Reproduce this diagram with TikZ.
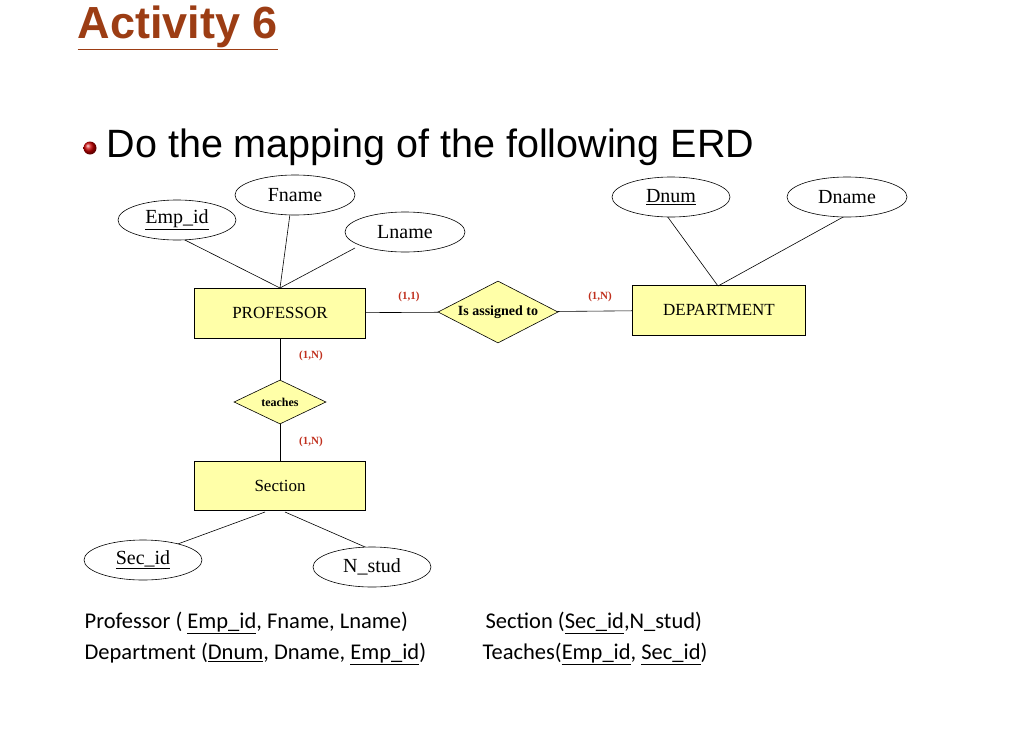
\documentclass[tikz,border=0pt]{standalone}
\usepackage{fontspec}
\setmainfont{Liberation Serif}
\newfontfamily\arialfont{Liberation Sans}
\newfontfamily\calibrifont{Carlito}
\usetikzlibrary{shapes.geometric,positioning}
\definecolor{titlebrown}{HTML}{9C3D14}
\definecolor{cardred}{HTML}{C0301E}
\definecolor{boxyellow}{HTML}{FFFFA8}
\tikzset{
  entity/.style={rectangle, draw=black, fill=boxyellow, minimum width=171pt, minimum height=50pt, font=\fontsize{17}{19}\selectfont},
  attrib/.style={ellipse, draw=black, fill=white, minimum width=118pt, minimum height=40pt, font=\fontsize{20}{22}\selectfont},
  relation/.style={diamond, draw=black, fill=boxyellow, aspect=2, inner sep=0pt, font=\bfseries\fontsize{14}{16}\selectfont},
  card/.style={text=cardred, font=\bfseries\fontsize{11}{13}\selectfont},
  schema/.style={anchor=west, font=\calibrifont\fontsize{22.5}{26}\selectfont}
}
\begin{document}
\begin{tikzpicture}[x=1pt,y=-1pt,semithick]
  \useasboundingbox (0,0) rectangle (1024,731);

  % heading
  \node[anchor=west, text=titlebrown, font=\arialfont\bfseries\fontsize{45}{48}\selectfont] (title) at (74,28) {\underline{Activity 6}};
  \shade[ball color=red!80!black] (90,148) circle (6.5);
  \node[anchor=west, font=\arialfont\fontsize{39.5}{42}\selectfont] (intro) at (103,147) {Do the mapping of the following ERD};

  % entities and relationships
  \node[entity] (prof) at (280,313) {PROFESSOR};
  \node[entity, minimum width=173pt] (dept) at (719,310) {DEPARTMENT};
  \node[entity, minimum height=49pt] (sect) at (280,486) {Section};
  \node[relation, minimum width=120pt, minimum height=62pt] (assign) at (498,312) {Is assigned to};
  \node[relation, minimum width=92pt, minimum height=44pt, font=\bfseries\fontsize{12}{14}\selectfont] (teach) at (280,402) {teaches};

  % connectors first, attributes drawn on top
  \coordinate (proftop) at (280,288);
  \coordinate (depttop) at (718,286);
  \draw (proftop) -- (177,236);
  \draw (proftop) -- (290,214);
  \draw (proftop) -- (355,248);
  \draw (depttop) -- (667,216);
  \draw (depttop) -- (845,216);
  \draw (prof) -- (assign) -- (dept);
  \draw (prof) -- (teach) -- (sect);
  \draw (265,512) -- (175,545);
  \draw (285,512) -- (372,550);

  \node[attrib] (empid) at (177,220) {\underline{Emp\_id}};
  \node[attrib, minimum width=120pt] (fname) at (295,195) {Fname};
  \node[attrib, minimum width=120pt] (lname) at (405,232) {Lname};
  \node[attrib] (dnum) at (671,197) {\underline{Dnum}};
  \node[attrib, minimum width=120pt] (dname) at (847,197) {Dname};
  \node[attrib] (secid) at (143,560) {\underline{Sec\_id}};
  \node[attrib] (nstud) at (372,567) {N\_stud};

  % cardinalities
  \node[card] (c11) at (409,297) {(1,1)};
  \node[card] (c1n) at (600,297) {(1,N)};
  \node[card] (c1na) at (311,356) {(1,N)};
  \node[card] (c1nb) at (311,442) {(1,N)};

  % mapping
  \node[schema] (s1) at (81,623) {Professor ( \underline{Emp\_id}, Fname, Lname)};
  \node[schema] (s2) at (81,654) {Department (\underline{Dnum}, Dname, \underline{Emp\_id})};
  \node[schema] (s3) at (482,623) {Section (\underline{Sec\_id},N\_stud)};
  \node[schema] (s4) at (479,654) {Teaches(\underline{Emp\_id}, \underline{Sec\_id})};
\end{tikzpicture}
\end{document}
